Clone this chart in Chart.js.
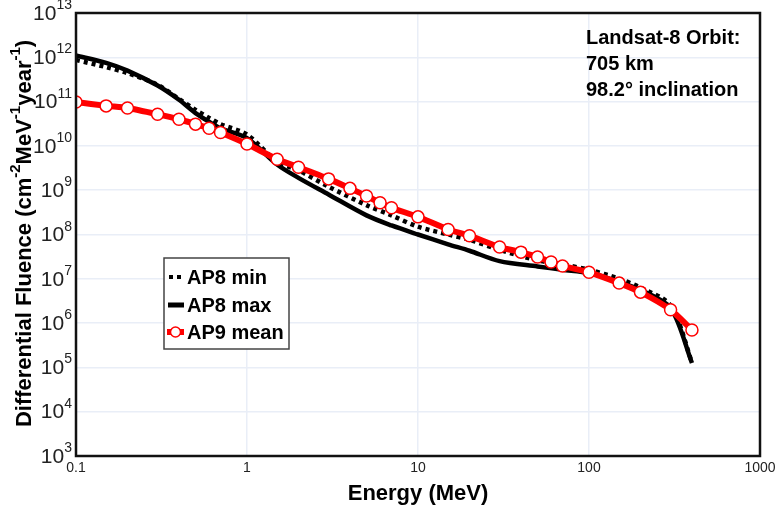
<!DOCTYPE html>
<html>
<head>
<meta charset="utf-8">
<script src="https://cdn.jsdelivr.net/npm/chart.js@4/dist/chart.umd.min.js"></script>
<style>
  body { margin: 0; background: #fff; }
  canvas { display: block; }
</style>
</head>
<body>
<canvas id="fluence" width="777" height="510"></canvas>
<script>
// data
const energyAP8 = [0.1, 0.15, 0.2, 0.3, 0.4, 0.5, 0.6, 0.7, 1, 1.5, 2, 3, 5, 7, 10, 15, 20, 30, 50, 70, 100, 150, 200, 300, 400];
const ap8Min = [8.7e11, 6e11, 4.4e11, 2.4e11, 1.15e11, 6.5e10, 4.3e10, 3.1e10, 1.8e10, 4.4e9, 2.8e9, 1.2e9, 4.6e8, 2.7e8, 1.5e8, 1e8, 7.6e7, 4.5e7, 2.6e7, 2.1e7, 1.6e7, 1e7, 6.3e6, 2.5e6, 1.3e5];
const ap8Max = [1.1e12, 7.5e11, 5e11, 2.3e11, 1.1e11, 5.5e10, 3.5e10, 2.5e10, 1.5e10, 3.8e9, 1.9e9, 8e8, 2.7e8, 1.6e8, 1e8, 6e7, 4.3e7, 2.5e7, 1.9e7, 1.6e7, 1.35e7, 8.5e6, 5.6e6, 2.2e6, 1.26e5];

const energyAP9 = [0.1, 0.15, 0.2, 0.3, 0.4, 0.5, 0.6, 0.7, 1, 1.5, 2, 3, 4, 5, 6, 7, 10, 15, 20, 30, 40, 50, 60, 70, 100, 150, 200, 300, 400];
const ap9Mean = [9.8e10, 8e10, 7.2e10, 5.2e10, 4e10, 3.1e10, 2.5e10, 2e10, 1.1e10, 5e9, 3.3e9, 1.8e9, 1.1e9, 7.4e8, 5.2e8, 4e8, 2.5e8, 1.3e8, 9.4e7, 5.2e7, 4e7, 3.1e7, 2.4e7, 1.95e7, 1.4e7, 8e6, 5e6, 2e6, 7e5];

const xTicks = [0.1, 1, 10, 100, 1000];
const xTickLabels = ['0.1', '1', '10', '100', '1000'];
const yExponents = [3, 4, 5, 6, 7, 8, 9, 10, 11, 12, 13];

const orbitNote = ['Landsat-8 Orbit:', '705 km', '98.2\u00b0 inclination'];

const toPoints = (xs, ys) => xs.map((x, i) => ({ x: x, y: ys[i] }));

const FONT = '"Liberation Sans", Arial, sans-serif';
const gridColor = '#e9eef7';

// draws a run of [text, isSuperscript] pieces starting at x
function drawRich(ctx, parts, x, y, size, supSize, weight) {
  let cx = x;
  parts.forEach(([txt, sup]) => {
    ctx.font = weight + ' ' + (sup ? supSize : size) + 'px ' + FONT;
    ctx.fillText(txt, cx, sup ? y - size * 0.42 : y);
    cx += ctx.measureText(txt).width;
  });
  return cx - x;
}
function richWidth(ctx, parts, size, supSize, weight) {
  let w = 0;
  parts.forEach(([txt, sup]) => {
    ctx.font = weight + ' ' + (sup ? supSize : size) + 'px ' + FONT;
    w += ctx.measureText(txt).width;
  });
  return w;
}

const decorations = {
  id: 'decorations',
  afterDraw(chart) {
    const ctx = chart.ctx;
    const area = chart.chartArea;
    const xs = chart.scales.x, ys = chart.scales.y;
    ctx.save();
    ctx.fillStyle = '#222';
    ctx.textBaseline = 'middle';

    // frame
    ctx.strokeStyle = '#111';
    ctx.lineWidth = 2.5;
    ctx.strokeRect(area.left, area.top, area.right - area.left, area.bottom - area.top);

    // y tick labels 10^n
    yExponents.forEach(e => {
      const y = ys.getPixelForValue(Math.pow(10, e));
      const parts = [['10', false], [String(e), true]];
      const w = richWidth(ctx, parts, 21, 14, 'normal');
      drawRich(ctx, parts, area.left - 4 - w, y + 1, 21, 14, 'normal');
    });

    // x tick labels
    ctx.font = '14px ' + FONT;
    ctx.textAlign = 'center';
    xTicks.forEach((v, i) => {
      ctx.fillText(xTickLabels[i], xs.getPixelForValue(v), area.bottom + 12);
    });

    // axis titles
    ctx.fillStyle = '#000';
    ctx.font = 'bold 22px ' + FONT;
    ctx.fillText('Energy (MeV)', (area.left + area.right) / 2, 494);

    const yTitle = [['Differential Fluence (cm', false], ['-2', true], ['MeV', false], ['-1', true], ['year', false], ['-1', true], [')', false]];
    ctx.save();
    ctx.translate(25, (area.top + area.bottom) / 2 - 1);
    ctx.rotate(-Math.PI / 2);
    ctx.textAlign = 'left';
    const tw = richWidth(ctx, yTitle, 22, 15, 'bold');
    drawRich(ctx, yTitle, -tw / 2, 0, 22, 15, 'bold');
    ctx.restore();

    // orbit note
    ctx.textAlign = 'left';
    ctx.textBaseline = 'alphabetic';
    ctx.font = 'bold 20px ' + FONT;
    orbitNote.forEach((line, i) => ctx.fillText(line, 586, 44 + i * 26));

    // legend box
    const lx = 164, ly = 258, lw = 125, lh = 91;
    ctx.fillStyle = '#fff';
    ctx.fillRect(lx, ly, lw, lh);
    ctx.strokeStyle = '#444';
    ctx.lineWidth = 1.5;
    ctx.strokeRect(lx, ly, lw, lh);
    const rows = [ly + 19, ly + 47, ly + 74];
    // dotted
    ctx.fillStyle = '#000';
    ctx.fillRect(169, rows[0] - 2, 4, 4);
    ctx.fillRect(177, rows[0] - 2, 4, 4);
    // solid
    ctx.fillRect(168, rows[1] - 2.5, 16, 5);
    // red with circle
    ctx.fillStyle = '#ff0000';
    ctx.fillRect(167, rows[2] - 3, 17, 6);
    ctx.beginPath();
    ctx.arc(175.5, rows[2], 5, 0, Math.PI * 2);
    ctx.fillStyle = '#fff';
    ctx.fill();
    ctx.strokeStyle = '#ff0000';
    ctx.lineWidth = 1.5;
    ctx.stroke();
    ctx.fillStyle = '#000';
    ctx.font = 'bold 20px ' + FONT;
    ctx.textBaseline = 'middle';
    ['AP8 min', 'AP8 max', 'AP9 mean'].forEach((t, i) => ctx.fillText(t, 187, rows[i] + 1));

    ctx.restore();
  }
};

const decadeTicks = values => scale => { scale.ticks = values.map(v => ({ value: v })); };

new Chart(document.getElementById('fluence'), {
  type: 'line',
  data: {
    datasets: [
      {
        label: 'AP9 mean',
        data: toPoints(energyAP9, ap9Mean),
        borderColor: '#ff0000',
        borderWidth: 6,
        tension: 0.2,
        pointRadius: 6,
        pointBackgroundColor: '#fff',
        pointBorderColor: '#ff0000',
        pointBorderWidth: 1.5,
        order: 0
      },
      {
        label: 'AP8 min',
        data: toPoints(energyAP8, ap8Min),
        borderColor: '#000',
        borderWidth: 4.5,
        borderDash: [4, 4],
        tension: 0.3,
        pointRadius: 0,
        order: 1
      },
      {
        label: 'AP8 max',
        data: toPoints(energyAP8, ap8Max),
        borderColor: '#000',
        borderWidth: 4.5,
        tension: 0.3,
        pointRadius: 0,
        order: 2
      }
    ]
  },
  options: {
    responsive: false,
    animation: false,
    devicePixelRatio: 1,
    layout: { padding: { left: 76, top: 13, right: 17, bottom: 54 } },
    plugins: { legend: { display: false }, tooltip: { enabled: false } },
    scales: {
      x: {
        type: 'logarithmic',
        min: 0.1,
        max: 1000,
        afterBuildTicks: decadeTicks(xTicks),
        afterFit: s => { s.height = 0; },
        ticks: { display: false },
        grid: { color: gridColor, lineWidth: 1.5, drawTicks: false },
        border: { display: false }
      },
      y: {
        type: 'logarithmic',
        min: 1e3,
        max: 1e13,
        afterBuildTicks: decadeTicks(yExponents.map(e => Math.pow(10, e))),
        afterFit: s => { s.width = 0; },
        ticks: { display: false },
        grid: { color: gridColor, lineWidth: 1.5, drawTicks: false },
        border: { display: false }
      }
    }
  },
  plugins: [decorations]
});
</script>
</body>
</html>
